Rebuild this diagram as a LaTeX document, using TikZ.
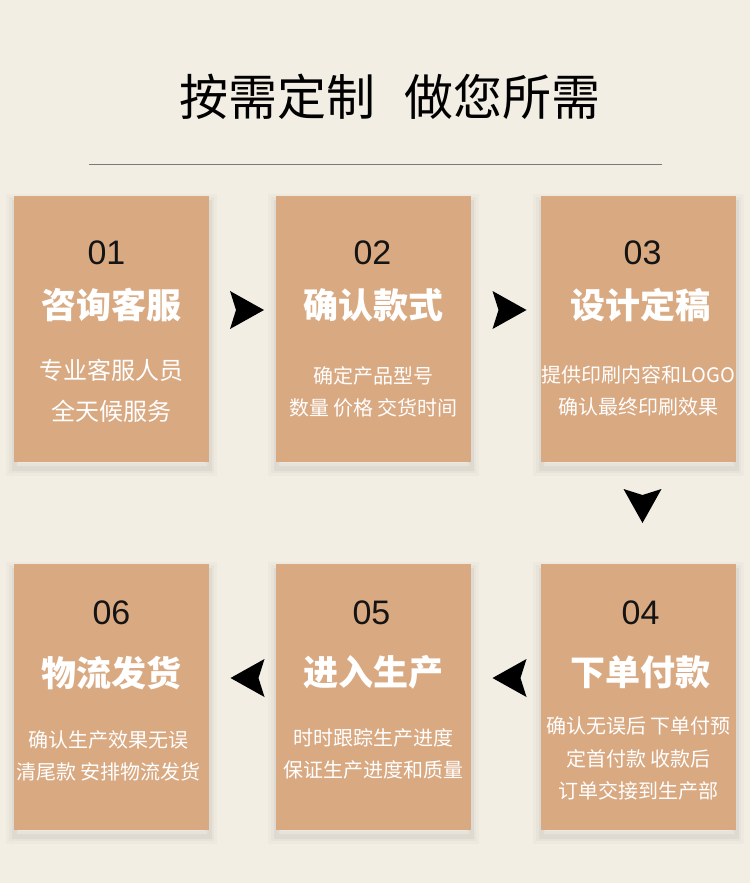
\documentclass[tikz,border=0pt]{standalone}
\usepackage{fontspec}
\setmainfont{Noto Sans CJK SC}
\newfontfamily\numfont{Liberation Sans}
\usetikzlibrary{calc}
\definecolor{bgcol}{HTML}{F2EEE4}
\definecolor{boxcol}{HTML}{D9A982}
\definecolor{rulecol}{HTML}{7A7A7A}
\newcommand{\dart}[2]{\fill[black,shift={#1},rotate=#2] (17,0) -- (-17,-19) -- (-11,0) -- (-17,19) -- cycle;}
\begin{document}
\begin{tikzpicture}[x=1pt,y=-1pt,
 card/.style={fill=boxcol,minimum width=195pt,minimum height=266pt,inner sep=0pt,
   preaction={draw=black,draw opacity=0.018,line width=16pt,transform canvas={yshift=-6pt}},
   preaction={draw=black,draw opacity=0.025,line width=10pt,transform canvas={yshift=-6pt}},
   preaction={draw=black,draw opacity=0.035,line width=5pt,transform canvas={yshift=-6pt}}},
 num/.style={font=\numfont\fontsize{34}{34}\selectfont,text=black!92,inner sep=0pt},
 head/.style={font=\bfseries\fontsize{35}{35}\selectfont,text=white,inner sep=0pt},
 sub/.style={font=\fontsize{20}{32}\selectfont,text=white,align=center,inner sep=0pt}]
\useasboundingbox (0,0) rectangle (750,883);
\fill[bgcol] (0,0) rectangle (750,883);
% title and rule
\node[font=\fontsize{49}{49}\selectfont,inner sep=0pt] (title) at (390,97) {按需定制\hspace{30pt}做您所需};
\draw[rulecol,line width=0.8pt] (89,164) -- (662,164);
% top row
\node[card] (b1) at (111.5,329) {};
\node[card] (b2) at (373.5,329) {};
\node[card] (b3) at (638.5,329) {};
\node[num] (n1) at ($(b1.north)+(-5,57)$) {01};
\node[num] (n2) at ($(b2.north)+(-1,57)$) {02};
\node[num] (n3) at ($(b3.north)+(4,57)$) {03};
\node[head] (h1) at ($(b1.north)+(0,109)$) {咨询客服};
\node[head] (h2) at ($(b2.north)+(0,109)$) {确认款式};
\node[head] (h3) at ($(b3.north)+(2,109)$) {设计定稿};
\node[sub,font=\fontsize{24}{41}\selectfont] (s1) at ($(b1.north)+(0,194.5)$) {专业客服人员\\全天候服务};
\node[sub] (s2) at ($(b2.north)+(0,196)$) {确定产品型号\\数量 价格 交货时间};
\node[sub] (s3) at ($(b3.north)+(0,195)$) {提供印刷内容和LOGO\\确认最终印刷效果};
% bottom row
\node[card] (b4) at (638.5,697) {};
\node[card] (b5) at (373.5,697) {};
\node[card] (b6) at (111.5,697) {};
\node[num] (n4) at ($(b4.north)+(2,49)$) {04};
\node[num] (n5) at ($(b5.north)+(-2,49)$) {05};
\node[num] (n6) at ($(b6.north)+(0,49)$) {06};
\node[head] (h4) at ($(b4.north)+(2,109)$) {下单付款};
\node[head] (h5) at ($(b5.north)+(0,109)$) {进入生产};
\node[head] (h6) at ($(b6.north)+(0,109)$) {物流发货};
\node[sub,font=\fontsize{20}{32.5}\selectfont] (s4) at ($(b4.north)+(0,195)$) {确认无误后 下单付预\\定首付款 收款后\\订单交接到生产部};
\node[sub] (s5) at ($(b5.north)+(0,190)$) {时时跟踪生产进度\\保证生产进度和质量};
\node[sub] (s6) at ($(b6.north)+(-3,192)$) {确认生产效果无误\\清尾款 安排物流发货};
% arrows
\dart{(247,310)}{0}
\dart{(509.5,310)}{0}
\dart{(642.5,506)}{-90}
\dart{(509.5,678)}{180}
\dart{(247.5,678)}{180}
\end{tikzpicture}
\end{document}
